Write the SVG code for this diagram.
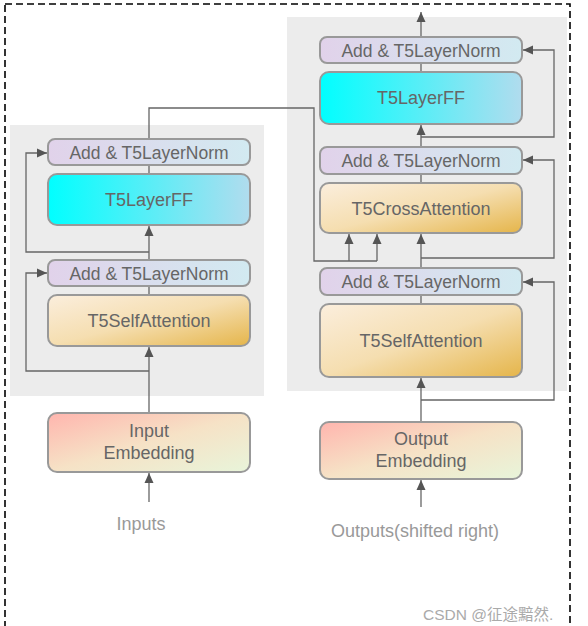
<svg xmlns="http://www.w3.org/2000/svg" width="588" height="626" viewBox="0 0 588 626">
<defs>
<linearGradient id="gNorm" x1="0" y1="0" x2="1" y2="0"><stop offset="0" stop-color="#e1d2ea"/><stop offset="1" stop-color="#d2eaf1"/></linearGradient>
<linearGradient id="gFF" x1="0" y1="0" x2="1" y2="0"><stop offset="0" stop-color="#00ffff"/><stop offset="1" stop-color="#b1dcee"/></linearGradient>
<linearGradient id="gAtt" x1="0" y1="0" x2="1" y2="1"><stop offset="0" stop-color="#fbeedd"/><stop offset="0.5" stop-color="#f5deb0"/><stop offset="1" stop-color="#e5b54a"/></linearGradient>
<linearGradient id="gEmb" x1="0" y1="0" x2="1" y2="1"><stop offset="0" stop-color="#ffb5ae"/><stop offset="0.5" stop-color="#f6e2c6"/><stop offset="1" stop-color="#e8f5da"/></linearGradient>
<marker id="arr" markerUnits="userSpaceOnUse" markerWidth="11" markerHeight="10" refX="10" refY="5" orient="auto"><path d="M0,0.5 L10,5 L0,9.5 z" fill="#555"/></marker>
</defs>
<style>
.nd{stroke:#999;stroke-width:2}
.t{font-family:"Liberation Sans",Arial,sans-serif;font-size:18px;fill:#666;text-anchor:middle}
.tn{font-size:17.5px}
.lbl{font-family:"Liberation Sans",Arial,sans-serif;font-size:18px;fill:#999;text-anchor:middle}
.c{fill:none;stroke:#666;stroke-width:1.3}
.ca{fill:none;stroke:#666;stroke-width:1.3;marker-end:url(#arr)}
</style>
<rect x="5" y="4" width="565" height="660" fill="none" stroke="#000" stroke-width="1.6" stroke-dasharray="7 4"/>
<rect x="10" y="125" width="254" height="271" fill="#ececec"/>
<rect x="287" y="17" width="280" height="374" fill="#ececec"/>

<g id="connectors">
<path class="ca" d="M149,413 V347"/>
<path class="ca" d="M149,371 H26 V273 H47"/>
<path class="c" d="M149,295 V286"/>
<path class="ca" d="M149,260 V226"/>
<path class="ca" d="M149,252 H26 V153 H47"/>
<path class="c" d="M149,174 V165"/>
<path class="c" d="M149,139 V108 H314 V261 H377"/>
<path class="ca" d="M349,261 V234"/>
<path class="ca" d="M377,261 V234"/>
<path class="ca" d="M421,422 V378"/>
<path class="ca" d="M421,400 H554 V282 H523"/>
<path class="c" d="M421,304 V295"/>
<path class="ca" d="M421,268 V234"/>
<path class="ca" d="M421,258 H554 V160 H523"/>
<path class="c" d="M421,183 V174"/>
<path class="ca" d="M421,147 V125"/>
<path class="ca" d="M421,137 H554 V50 H523"/>
<path class="c" d="M421,72 V63"/>
<path class="ca" d="M421,37 V12"/>
<path class="ca" d="M149,502 V473"/>
<path class="ca" d="M421,507 V480"/>
</g>

<g id="enc-norm2"><rect class="nd" x="48" y="139" width="202" height="26" rx="7" fill="url(#gNorm)"/><text class="t tn" x="149" y="158.5">Add &amp; T5LayerNorm</text></g>
<g id="enc-ff"><rect class="nd" x="48" y="174" width="202" height="51" rx="9" fill="url(#gFF)"/><text class="t" x="149" y="206">T5LayerFF</text></g>
<g id="enc-norm1"><rect class="nd" x="48" y="260" width="202" height="26" rx="7" fill="url(#gNorm)"/><text class="t tn" x="149" y="279.5">Add &amp; T5LayerNorm</text></g>
<g id="enc-selfatt"><rect class="nd" x="48" y="295" width="202" height="51" rx="9" fill="url(#gAtt)"/><text class="t" x="149" y="327">T5SelfAttention</text></g>
<g id="input-emb"><rect class="nd" x="48" y="413" width="202" height="59" rx="9" fill="url(#gEmb)"/><text class="t" x="149" y="437">Input</text><text class="t" x="149" y="459">Embedding</text></g>
<g id="inputs"><text class="lbl" x="141" y="530">Inputs</text></g>

<g id="dec-norm3"><rect class="nd" x="320" y="37" width="202" height="26" rx="7" fill="url(#gNorm)"/><text class="t tn" x="421" y="56.5">Add &amp; T5LayerNorm</text></g>
<g id="dec-ff"><rect class="nd" x="320" y="72" width="202" height="52" rx="9" fill="url(#gFF)"/><text class="t" x="421" y="104">T5LayerFF</text></g>
<g id="dec-norm2"><rect class="nd" x="320" y="147" width="202" height="27" rx="7" fill="url(#gNorm)"/><text class="t tn" x="421" y="167">Add &amp; T5LayerNorm</text></g>
<g id="dec-cross"><rect class="nd" x="320" y="183" width="202" height="50" rx="9" fill="url(#gAtt)"/><text class="t" x="421" y="215">T5CrossAttention</text></g>
<g id="dec-norm1"><rect class="nd" x="320" y="268" width="202" height="27" rx="7" fill="url(#gNorm)"/><text class="t tn" x="421" y="288">Add &amp; T5LayerNorm</text></g>
<g id="dec-selfatt"><rect class="nd" x="320" y="304" width="202" height="73" rx="9" fill="url(#gAtt)"/><text class="t" x="421" y="347">T5SelfAttention</text></g>
<g id="output-emb"><rect class="nd" x="320" y="422" width="202" height="57" rx="9" fill="url(#gEmb)"/><text class="t" x="421" y="445">Output</text><text class="t" x="421" y="467">Embedding</text></g>
<g id="outputs"><text class="lbl" x="415" y="537">Outputs(shifted right)</text></g>

<text x="423" y="620" font-family="Liberation Sans,'Noto Sans CJK SC',sans-serif" font-size="15.5" fill="#aaa">CSDN @征途黯然.</text>
</svg>
